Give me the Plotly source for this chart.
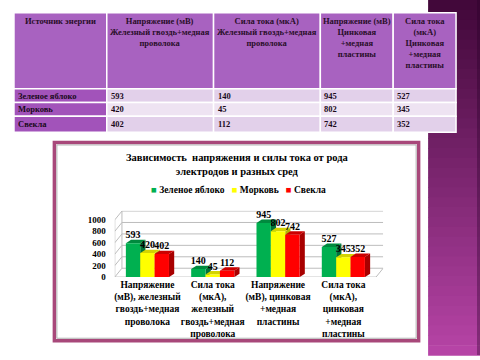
import plotly.graph_objects as go

# ---- data ----
sources = ["Зеленое яблоко", "Морковь", "Свекла"]
categories = [
    "Напряжение<br>(мВ), железный<br>гвоздь+медная<br>проволока",
    "Сила тока<br>(мкА),<br>железный<br>гвоздь+медная<br>проволока",
    "Напряжение<br>(мВ), цинковая<br>+медная<br>пластины",
    "Сила тока<br>(мкА),<br>цинковая<br>+медная<br>пластины",
]
green_apple = [593, 140, 945, 527]
carrot = [420, 45, 802, 345]
beet = [402, 112, 742, 352]

table_headers = [
    "Источник энергии",
    "Напряжение (мВ)<br>Железный гвоздь+медная<br>проволока",
    "Сила тока (мкА)<br>Железный гвоздь+медная<br>проволока",
    "Напряжение (мВ)<br>Цинковая<br>+медная<br>пластины",
    "Сила тока<br>(мкА)<br>Цинковая<br>+медная<br>пластины",
]
y_ticks = [0, 200, 400, 600, 800, 1000]

# name, values, front colour, side colour, top colour
series = [("Зеленое яблоко", green_apple, "#00b050", "#00733a", "#008a3e"),
          ("Морковь", carrot, "#ffff00", "#b3b300", "#d4d400"),
          ("Свекла", beet, "#ff0000", "#a80000", "#cc0000")]

W, H = 480, 360
def px(x):
    return x / W
def py(y):
    return 1 - y / H

SERIF = "'Liberation Serif', 'Times New Roman', serif"

BAR_W = 0.22
DX, DY = 0.08, 60      # depth of the bars' pseudo-3D faces (axis units)
WX, WY = 0.11, 155     # depth of the back wall / floor (axis units)
X_MIN, X_MAX = -0.5, 3.5 + WX
Y_MAX = 1000 + WY + 5
PX_PER_UNIT = 58 / 1000.0
Y0_PIX = 281
X0_PIX, CAT_PIX = 114, 65.45

fig = go.Figure()
shapes = []
annotations = []
grid = "#bdbdbd"

# 3D wall gridlines and floor
for t in y_ticks:
    shapes.append(dict(type="path", xref="x", yref="y", layer="between",
                       path="M %f,%f L %f,%f L %f,%f" % (X_MIN, t, X_MIN + WX, t + WY, X_MAX, t + WY),
                       line=dict(color=grid, width=1)))
shapes.append(dict(type="line", xref="x", yref="y", layer="between",
                   x0=X_MIN, x1=X_MIN, y0=0, y1=y_ticks[-1], line=dict(color=grid, width=1)))
shapes.append(dict(type="line", xref="x", yref="y", layer="between",
                   x0=X_MIN + WX, x1=X_MIN + WX, y0=WY, y1=y_ticks[-1] + WY, line=dict(color=grid, width=1)))
shapes.append(dict(type="path", xref="x", yref="y", layer="between",
                   path="M %f,0 L %f,0 L %f,%f" % (X_MIN, 3.5, X_MAX, WY),
                   line=dict(color=grid, width=1)))

for k, (name, vals, color, side, topc) in enumerate(series):
    off = -0.33 + BAR_W * k
    fig.add_trace(go.Bar(
        x=list(range(len(categories))), y=vals, name=name, width=BAR_W, offset=off,
        marker=dict(color=color, line=dict(width=0)),
        text=[str(v) for v in vals], textposition="outside",
        textfont=dict(family=SERIF, size=10, color="black", weight="bold"),
        constraintext="none", cliponaxis=False, showlegend=False,
    ))
    for i, v in enumerate(vals):
        x0 = i + off
        x1 = x0 + BAR_W
        shapes.append(dict(type="path", xref="x", yref="y", layer="between",
                           path="M %f,0 L %f,%f L %f,%f L %f,%f Z" % (x1, x1 + DX, DY, x1 + DX, v + DY, x1, v),
                           fillcolor=side, line=dict(width=0)))
        shapes.append(dict(type="path", xref="x", yref="y", layer="between",
                           path="M %f,%f L %f,%f L %f,%f L %f,%f Z" % (x0, v, x0 + DX, v + DY, x1 + DX, v + DY, x1, v),
                           fillcolor=topc, line=dict(width=0)))

# purple gradient panel on the right
n = 36
top = (66, 8, 58)
bot = (182, 68, 166)
for i in range(n):
    t = i / (n - 1)
    c = tuple(int(top[j] + (bot[j] - top[j]) * t) for j in range(3))
    shapes.append(dict(type="rect", xref="paper", yref="paper",
                       x0=px(428), x1=1, y0=py(360 * (i + 1) / n) - 0.002, y1=py(360 * i / n),
                       fillcolor="rgb(%d,%d,%d)" % c, line=dict(width=0), layer="below"))
shapes.append(dict(type="rect", xref="paper", yref="paper", x0=px(477), x1=1, y0=0, y1=1,
                   fillcolor="rgba(40,0,40,0.35)", line=dict(width=0), layer="below"))

# ---- table (drawn as cells + text) ----
col_x = [13, 106, 213, 320, 393, 456]
row_y = [13, 90, 104, 118, 134]
header_fill = "#a862c0"
first_fill = "#a253ba"
light = ["#e2d0ea", "#eee3f2", "#e2d0ea"]
table_cols = [sources] + [[str(green_apple[i]), str(carrot[i]), str(beet[i])] for i in range(4)]
for c in range(5):
    shapes.append(dict(type="rect", xref="paper", yref="paper",
                       x0=px(col_x[c]), x1=px(col_x[c + 1]), y0=py(row_y[1]), y1=py(row_y[0]),
                       fillcolor=header_fill, line=dict(color="white", width=1.5), layer="below"))
    annotations.append(dict(text="<b>%s</b>" % table_headers[c], xref="paper", yref="paper",
                            x=px((col_x[c] + col_x[c + 1]) / 2), y=py(row_y[0] + 1),
                            xanchor="center", yanchor="top", showarrow=False, align="center",
                            font=dict(family=SERIF, size=8.5, color="#2a0f2a")))
    for r in range(3):
        fill = first_fill if c == 0 else light[r]
        shapes.append(dict(type="rect", xref="paper", yref="paper",
                           x0=px(col_x[c]), x1=px(col_x[c + 1]), y0=py(row_y[r + 2]), y1=py(row_y[r + 1]),
                           fillcolor=fill, line=dict(color="white", width=1.5), layer="below"))
        annotations.append(dict(text="<b>%s</b>" % table_cols[c][r], xref="paper", yref="paper",
                                x=px(col_x[c] + 2), y=py((row_y[r + 1] + row_y[r + 2]) / 2),
                                xanchor="left", yanchor="middle", showarrow=False,
                                font=dict(family=SERIF, size=8.5, color="#1a0a1a")))

# chart frame
shapes.append(dict(type="rect", xref="paper", yref="paper",
                   x0=px(53.5), x1=px(418.5), y0=py(345.5), y1=py(144.5),
                   fillcolor="white", line=dict(color="#a8487a", width=3.5), layer="below"))
shapes.append(dict(type="rect", xref="paper", yref="paper",
                   x0=px(56), x1=px(416), y0=py(343), y1=py(147),
                   fillcolor="rgba(0,0,0,0)", line=dict(color="#b0b0b0", width=1), layer="below"))

# title
annotations.append(dict(text="Зависимость  напряжения и силы тока от рода<br>электродов и разных сред",
                        xref="paper", yref="paper", x=px(237), y=py(166.5), xanchor="center",
                        yanchor="middle", showarrow=False,
                        font=dict(family=SERIF, size=10.5, color="black", weight="bold")))
# legend (text with coloured squares)
nb = "\u00a0"
legend_text = (nb * 3).join(
    '<span style="color:%s">■</span>%s%s' % (s[2], nb, s[0]) for s in series)
annotations.append(dict(text=legend_text, xref="paper", yref="paper", x=px(238), y=py(193),
                        xanchor="center", yanchor="middle", showarrow=False,
                        font=dict(family=SERIF, size=9.5, color="black", weight="bold")))

x_dom = [X0_PIX, X0_PIX + CAT_PIX * (X_MAX - X_MIN)]
y_dom = [Y0_PIX, Y0_PIX - PX_PER_UNIT * Y_MAX]

fig.update_layout(
    width=W, height=H, margin=dict(l=0, r=0, t=0, b=0),
    paper_bgcolor="white", plot_bgcolor="rgba(0,0,0,0)",
    barmode="group",
    shapes=shapes, annotations=annotations,
    showlegend=False,
    xaxis=dict(domain=[px(x_dom[0]), px(x_dom[1])], range=[X_MIN, X_MAX], showgrid=False,
               showline=False, zeroline=False, tickangle=0,
               tickvals=list(range(len(categories))), ticktext=categories,
               tickfont=dict(family=SERIF, size=9.5, color="black", weight="bold"),
               ticks="", fixedrange=True),
    yaxis=dict(domain=[py(y_dom[0]), py(y_dom[1])], range=[0, Y_MAX], tickvals=y_ticks,
               showgrid=False, showline=False, zeroline=False, ticklabelstandoff=8,
               tickfont=dict(family=SERIF, size=9, color="black", weight="bold"),
               fixedrange=True),
)

fig.write_html("out.html", config={"displayModeBar": False},
               post_script="document.body.style.margin='0';document.body.style.overflow='hidden';")
